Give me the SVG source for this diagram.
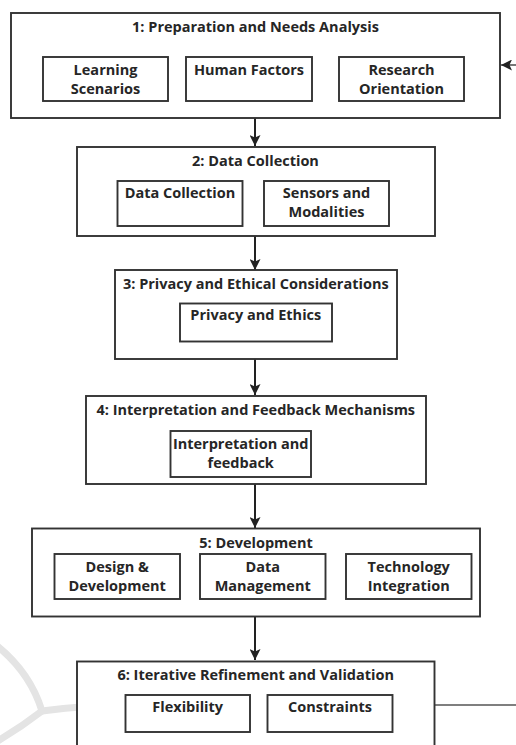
<svg xmlns="http://www.w3.org/2000/svg" width="516" height="745" viewBox="0 0 516 745">
<defs>
<marker id="ah" viewBox="0 0 11 11" refX="11" refY="5.5" markerWidth="11" markerHeight="11" markerUnits="userSpaceOnUse" orient="auto">
<path d="M0,0 L11,5.5 L0,11 L2.5,5.5 Z" fill="#222"/>
</marker>
</defs>
<style>
.stage{fill:#fff;stroke:#333;stroke-width:1.9}
.sub{fill:#fff;stroke:#333;stroke-width:1.9}
text{font-family:"Open Sans","Noto Sans","Liberation Sans",sans-serif;font-weight:bold;font-size:14.5px;fill:#262626;text-anchor:middle}
.conn{stroke:#222;stroke-width:2;fill:none}
.fb{stroke:#555;stroke-width:1.6;fill:none}
.wm{stroke:#e4e4e4;stroke-width:7;fill:none;stroke-linecap:round}
</style>
<rect width="516" height="745" fill="#fff"/>
<g id="watermark">
<path class="wm" d="M-4,645 Q30,672 42,711"/>
<path class="wm" d="M42,711 Q120,700 230,708"/>
<path class="wm" d="M42,711 Q20,728 -4,742"/>
</g>
<g id="connectors">
<line class="conn" x1="255" y1="118" x2="255" y2="146" marker-end="url(#ah)"/>
<line class="conn" x1="255" y1="236" x2="255" y2="270" marker-end="url(#ah)"/>
<line class="conn" x1="255" y1="359" x2="255" y2="395" marker-end="url(#ah)"/>
<line class="conn" x1="255" y1="484" x2="255" y2="528" marker-end="url(#ah)"/>
<line class="conn" x1="255" y1="617" x2="255" y2="660" marker-end="url(#ah)"/>
<line class="fb" x1="435" y1="705" x2="516" y2="705"/>
<line class="fb" x1="516" y1="65" x2="501" y2="65" marker-end="url(#ah)"/>
</g>
<g id="stage1">
<rect class="stage" x="11" y="13" width="489" height="105"/>
<text x="255.5" y="32">1: Preparation and Needs Analysis</text>
<g id="learning-scenarios">
<rect class="sub" x="43" y="57" width="125" height="44"/>
<text x="105.5" y="75">Learning</text>
<text x="105.5" y="93.5">Scenarios</text>
</g>
<g id="human-factors">
<rect class="sub" x="186" y="57" width="126" height="44"/>
<text x="249" y="75">Human Factors</text>
</g>
<g id="research-orientation">
<rect class="sub" x="339" y="57" width="125" height="44"/>
<text x="401.5" y="75">Research</text>
<text x="401.5" y="93.5">Orientation</text>
</g>
</g>
<g id="stage2">
<rect class="stage" x="77" y="147" width="358" height="89"/>
<text x="255.5" y="166">2: Data Collection</text>
<g id="data-collection">
<rect class="sub" x="117.5" y="181" width="125" height="45"/>
<text x="180" y="197.7">Data Collection</text>
</g>
<g id="sensors-modalities">
<rect class="sub" x="264" y="181" width="125" height="45"/>
<text x="326.5" y="197.7">Sensors and</text>
<text x="326.5" y="217.3">Modalities</text>
</g>
</g>
<g id="stage3">
<rect class="stage" x="115" y="270" width="282" height="89"/>
<text x="255.8" y="289.3">3: Privacy and Ethical Considerations</text>
<g id="privacy-ethics">
<rect class="sub" x="180" y="303.5" width="152" height="38"/>
<text x="255.8" y="320">Privacy and Ethics</text>
</g>
</g>
<g id="stage4">
<rect class="stage" x="86" y="396" width="340" height="88"/>
<text x="255.8" y="415.3">4: Interpretation and Feedback Mechanisms</text>
<g id="interpretation-feedback">
<rect class="sub" x="170.5" y="431" width="140.5" height="46"/>
<text x="240.7" y="448.7">Interpretation and</text>
<text x="240.7" y="467.7">feedback</text>
</g>
</g>
<g id="stage5">
<rect class="stage" x="32" y="528.5" width="448" height="88"/>
<text x="256" y="547.7">5: Development</text>
<g id="design-development">
<rect class="sub" x="54.5" y="554" width="125.5" height="45"/>
<text x="117.2" y="571.7">Design &amp;</text>
<text x="117.2" y="591">Development</text>
</g>
<g id="data-management">
<rect class="sub" x="200" y="554" width="125.5" height="45"/>
<text x="262.7" y="571.7">Data</text>
<text x="262.7" y="591">Management</text>
</g>
<g id="technology-integration">
<rect class="sub" x="346" y="554" width="125.5" height="45"/>
<text x="408.7" y="571.7">Technology</text>
<text x="408.7" y="591">Integration</text>
</g>
</g>
<g id="stage6">
<rect class="stage" x="77" y="661.5" width="357.5" height="100"/>
<text x="255.7" y="680">6: Iterative Refinement and Validation</text>
<g id="flexibility">
<rect class="sub" x="125.5" y="695" width="124.5" height="37"/>
<text x="187.7" y="711.7">Flexibility</text>
</g>
<g id="constraints">
<rect class="sub" x="267.5" y="695" width="125" height="37"/>
<text x="330" y="711.7">Constraints</text>
</g>
</g>
</svg>
